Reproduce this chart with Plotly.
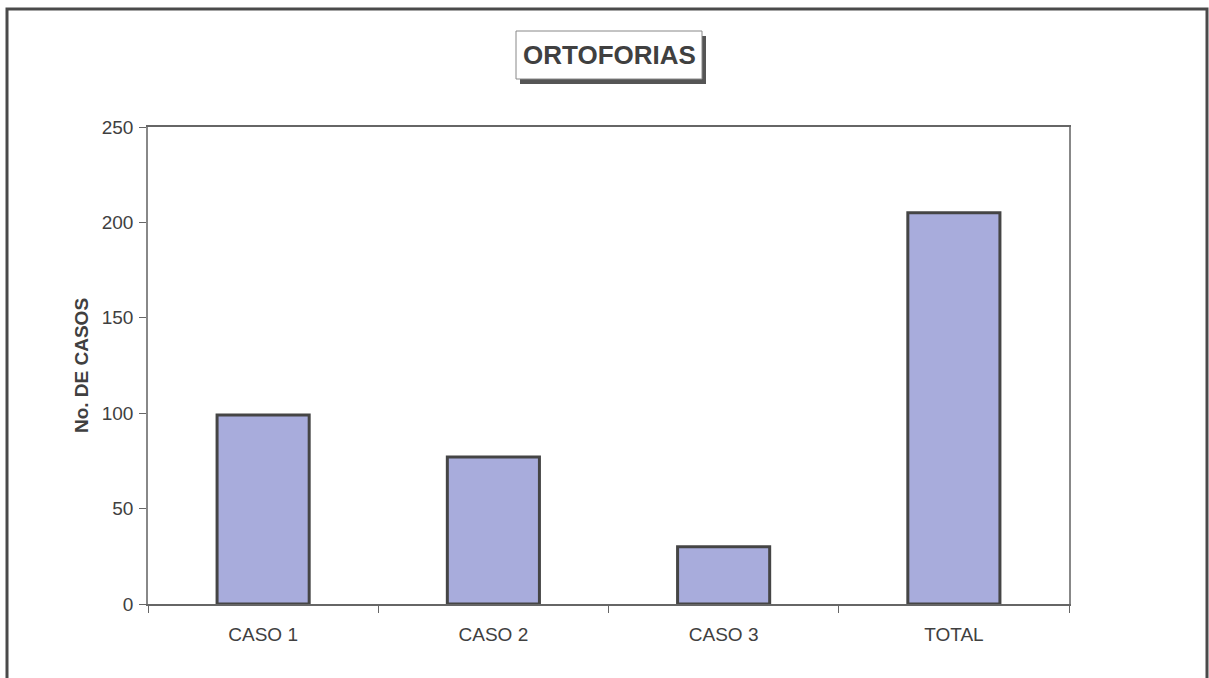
import plotly.graph_objects as go

categories = ["CASO 1", "CASO 2", "CASO 3", "TOTAL"]
casos = [99, 77, 30, 205]
y_ticks = [0, 50, 100, 150, 200, 250]
chart_title = "ORTOFORIAS"
y_title = "No. DE CASOS"

W, H = 1209, 678
L, R, T, B = 148, 140, 127, 74
pw, ph = W - L - R, H - T - B

def px_x(x):
    return (x - L) / pw

def px_y(y):
    return (H - B - y) / ph

fig = go.Figure()
fig.add_trace(go.Bar(
    x=categories, y=casos, width=0.4,
    marker=dict(color="#a8acdc", line=dict(color="#454545", width=3)),
))

shapes = [
    # outer frame
    dict(type="rect", xref="paper", yref="paper",
         x0=px_x(7), x1=px_x(1207), y0=px_y(700), y1=px_y(9),
         line=dict(color="#4a4a4a", width=3), fillcolor="rgba(0,0,0,0)", layer="below"),
    # title shadow
    dict(type="rect", xref="paper", yref="paper",
         x0=px_x(520), x1=px_x(706), y0=px_y(84), y1=px_y(36),
         line=dict(width=0), fillcolor="#555555", layer="above"),
    # title box
    dict(type="rect", xref="paper", yref="paper",
         x0=px_x(516), x1=px_x(702), y0=px_y(79), y1=px_y(31),
         line=dict(color="#888888", width=1), fillcolor="white", layer="above"),
]

fig.update_layout(
    width=W, height=H,
    margin=dict(l=L, r=R, t=T, b=B),
    paper_bgcolor="white", plot_bgcolor="white",
    showlegend=False,
    shapes=shapes,
    font=dict(family="Liberation Sans, Arial, sans-serif", color="#404040", size=19),
    annotations=[dict(
        text="<b>" + chart_title + "</b>", xref="paper", yref="paper",
        x=px_x(609), y=px_y(55), xanchor="center", yanchor="middle",
        showarrow=False, font=dict(size=26, color="#404040"),
    )],
)
fig.update_xaxes(
    showline=True, linecolor="#666666", linewidth=1.5, mirror=True,
    ticks="outside", tickson="boundaries", ticklen=7, tickcolor="#666666",
    ticklabelstandoff=12,
    showgrid=False, tickfont=dict(size=19, color="#404040"),
)
fig.update_yaxes(
    range=[0, 250], tickvals=y_ticks, showline=True, linecolor="#888888",
    linewidth=1.5, mirror=True, ticks="outside", ticklen=7, tickcolor="#666666",
    ticklabelstandoff=2,
    showgrid=False, zeroline=False, tickfont=dict(size=19, color="#404040"),
    title=dict(text="<b>" + y_title + "</b>", font=dict(size=19, color="#404040"), standoff=8),
)

fig.write_html("out.html", config={"displayModeBar": False},
               post_script="document.body.style.margin='0px';")
